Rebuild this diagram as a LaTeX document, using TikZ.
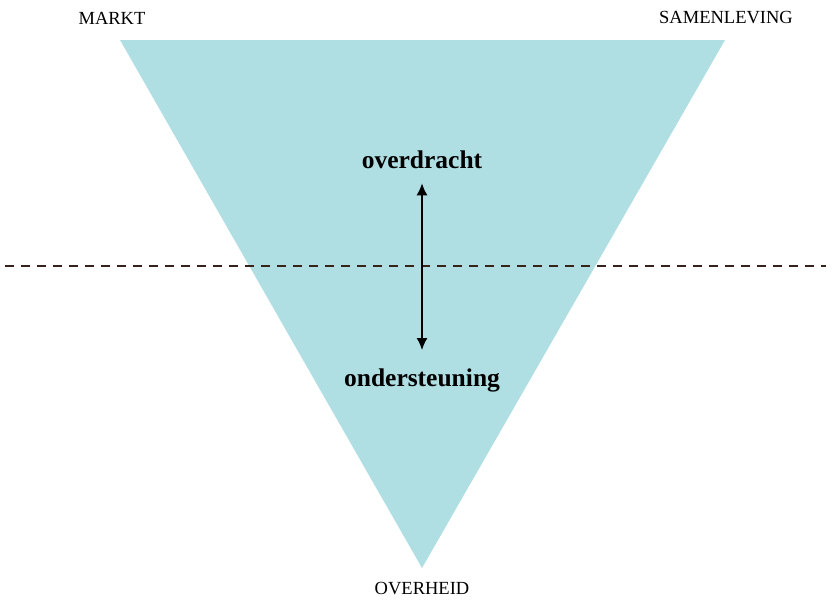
\documentclass[tikz,border=0pt]{standalone}
\usepackage{fontspec}
\setmainfont{Liberation Serif}
\usepackage{tikz}
\usetikzlibrary{arrows.meta}
\definecolor{tri_blue}{RGB}{175,222,227}
\definecolor{dash_brown}{RGB}{55,35,25}

\begin{document}
\begin{tikzpicture}[x=1pt,y=-1pt,>={Latex[length=12pt,width=11pt]},semithick]
    \tikzstyle{pole}=[inner sep=0pt, text=black, font=\fontsize{18.5}{20}\selectfont]
    \tikzstyle{flow}=[inner sep=0pt, text=black, font=\fontsize{25.5}{28}\selectfont\bfseries]

    \useasboundingbox (0,0) rectangle (832,600);

    \coordinate (tl) at (120,40);
    \coordinate (tr) at (725,40);
    \coordinate (bt) at (422,568);
    \fill[tri_blue] (tl) -- (tr) -- (bt) -- cycle;

    \coordinate (dl) at (5,266);
    \coordinate (dr) at (826,266);
    \draw[dash_brown, line width=1.2pt, dash pattern=on 9pt off 7pt] (dl) -- (dr);

    \node[pole] (markt) at (112,18)  {MARKT};
    \node[pole] (samen) at (726,18)  {SAMENLEVING};
    \node[pole] (overh) at (422,589) {OVERHEID};

    \node[flow] (over)  at (422,160) {overdracht};
    \node[flow] (onder) at (422,380) {ondersteuning};
    \path
     (over) edge[<->, line width=1.6pt, shorten <=14pt, shorten >=18pt] (onder)
     ;
\end{tikzpicture}
\end{document}
